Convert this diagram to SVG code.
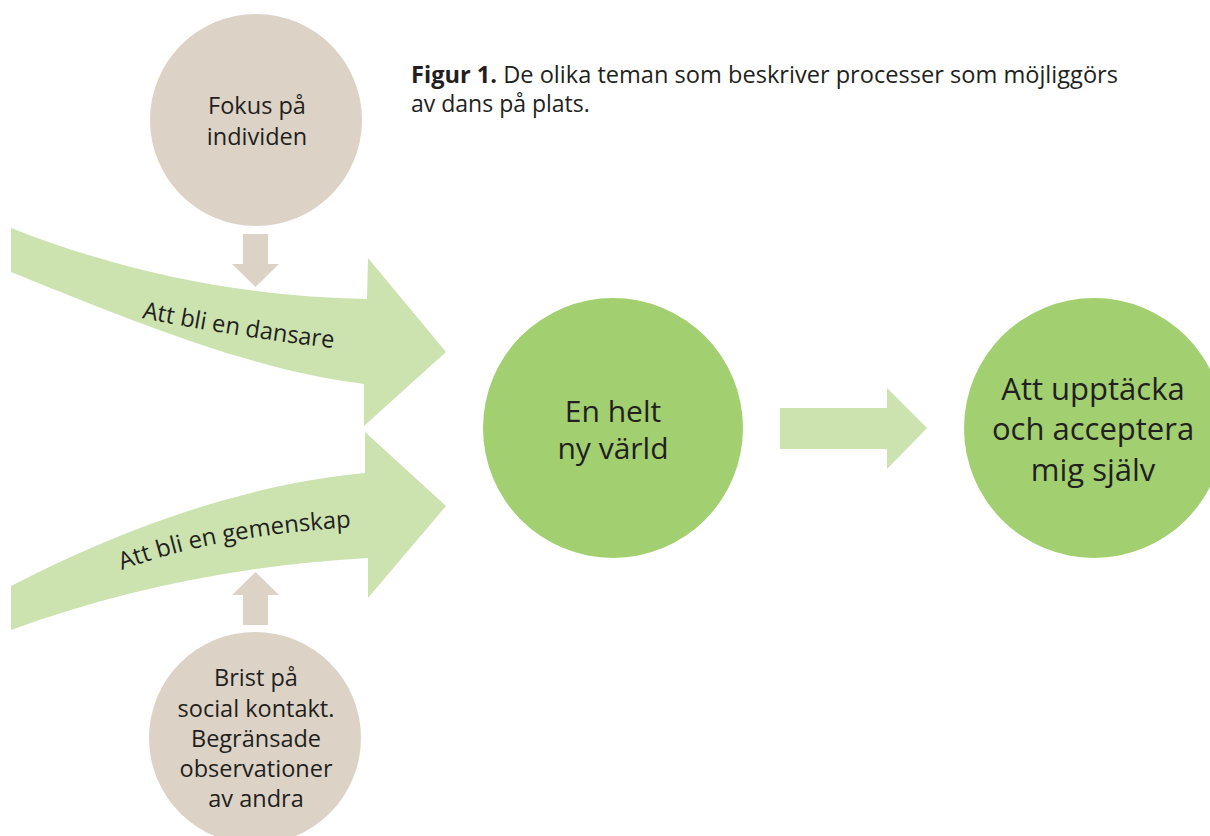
<svg xmlns="http://www.w3.org/2000/svg" width="1210" height="836" viewBox="0 0 1210 836">
<style>
.beige{fill:#dcd3c6}
.lg{fill:#cce3b0}
.g{fill:#a2cf6f}
text{font-family:"Open Sans","Noto Sans",sans-serif;fill:#231f20}
.sm{font-size:23.5px;text-anchor:middle}
.md{font-size:30px;text-anchor:middle}
.lgT{font-size:31px;text-anchor:middle}
.cap{font-size:23px}
.arr{font-size:24px}
</style>
<defs>
<path id="p1" d="M 142 318 Q 230 336 340 349"/>
<path id="p2" d="M 122 570 Q 215 535 358 527"/>
</defs>
<rect width="1210" height="836" fill="#ffffff"/>
<g id="caption">
<text class="cap" x="411" y="83" textLength="707" lengthAdjust="spacingAndGlyphs"><tspan font-weight="bold">Figur 1.</tspan> De olika teman som beskriver processer som möjliggörs</text>
<text class="cap" x="411" y="112">av dans på plats.</text>
</g>
<g id="connectors">
<path class="lg" d="M 11 228 C 130 275 250 297 367 299 L 368 258 L 446 352 L 364 426 L 364 384 C 250 370 130 320 11 272 Z"/>
<path class="lg" d="M 11 586 C 120 530 240 485 365 473 L 365 432 L 446 506 L 368 598 L 368 558 C 240 565 120 590 11 630 Z"/>
<path class="beige" d="M 243 234 L 268 234 L 268 264 L 279 264 L 255.5 287 L 232 264 L 243 264 Z"/>
<path class="beige" d="M 243 625 L 268 625 L 268 595 L 279 595 L 255.5 572 L 232 595 L 243 595 Z"/>
<path class="lg" d="M 780 408 L 887 408 L 887 388 L 927 428 L 887 469 L 887 449 L 780 449 Z"/>
<text class="arr"><textPath href="#p1" textLength="194" lengthAdjust="spacingAndGlyphs">Att bli en dansare</textPath></text>
<text class="arr"><textPath href="#p2" textLength="234" lengthAdjust="spacingAndGlyphs">Att bli en gemenskap</textPath></text>
</g>
<g id="node-fokus">
<circle class="beige" cx="256" cy="120" r="106"/>
<text class="sm" x="257" y="114">Fokus på</text>
<text class="sm" x="257" y="145">individen</text>
</g>
<g id="node-brist">
<circle class="beige" cx="255" cy="738" r="106"/>
<text class="sm" x="256" y="686">Brist på</text>
<text class="sm" x="256" y="717">social kontakt.</text>
<text class="sm" x="256" y="747">Begränsade</text>
<text class="sm" x="256" y="777">observationer</text>
<text class="sm" x="256" y="807">av andra</text>
</g>
<g id="node-ny-varld">
<circle class="g" cx="613" cy="428" r="130"/>
<text class="md" x="613" y="422">En helt</text>
<text class="md" x="613" y="459">ny värld</text>
</g>
<g id="node-acceptera">
<circle class="g" cx="1094" cy="428" r="130"/>
<text class="lgT" x="1093" y="400">Att upptäcka</text>
<text class="lgT" x="1093" y="440">och acceptera</text>
<text class="lgT" x="1093" y="481">mig själv</text>
</g>
</svg>
